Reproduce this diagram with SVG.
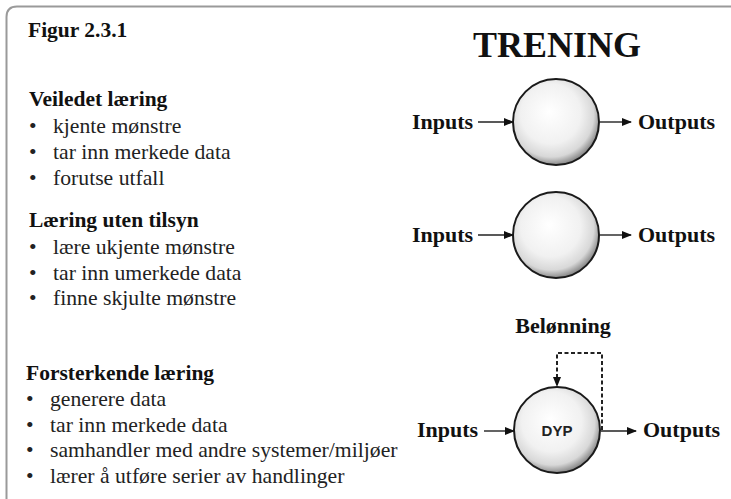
<svg xmlns="http://www.w3.org/2000/svg" width="731" height="499" viewBox="0 0 731 499">
<defs>
<style>
.h{font-family:"Liberation Serif","Times New Roman",serif;font-weight:bold;font-size:21.5px;fill:#111}
.t{font-family:"Liberation Serif","Times New Roman",serif;font-size:21.7px;fill:#222}
.io{font-family:"Liberation Serif","Times New Roman",serif;font-weight:bold;font-size:22px;fill:#111}
.node{fill:url(#g);stroke:#1a1a1a;stroke-width:2}
.ar{stroke:#222;stroke-width:1.4;fill:none;marker-end:url(#ah)}
.dash{stroke:#222;stroke-width:2;fill:none;stroke-dasharray:4 2.5;marker-end:url(#ah)}
</style>
<radialGradient id="g" cx="0.45" cy="0.42" r="0.58" fx="0.42" fy="0.38">
<stop offset="0" stop-color="#ffffff"/>
<stop offset="0.6" stop-color="#f1f1f1"/>
<stop offset="0.85" stop-color="#d8d8d8"/>
<stop offset="1" stop-color="#8a8a8a"/>
</radialGradient>
<marker id="ah" markerWidth="10" markerHeight="8" refX="9" refY="4" orient="auto" markerUnits="userSpaceOnUse">
<path d="M0,0 L10,4 L0,8 Z" fill="#111"/>
</marker>
</defs>
<rect width="731" height="499" fill="#fff"/>
<path d="M6.5,499 V17 Q6.5,6.5 17,6.5 H731" fill="none" stroke="#9a9a9a" stroke-width="2"/>

<text class="h" x="28" y="37">Figur 2.3.1</text>
<text x="557" y="57" text-anchor="middle" style="font-family:'Liberation Serif','Times New Roman',serif;font-weight:bold;font-size:36px;fill:#111">TRENING</text>

<g id="veiledet">
<text class="h" x="29" y="106">Veiledet læring</text>
<text class="t" x="29" y="133">•</text><text class="t" x="53" y="133">kjente mønstre</text>
<text class="t" x="29" y="159">•</text><text class="t" x="53" y="159">tar inn merkede data</text>
<text class="t" x="29" y="185">•</text><text class="t" x="53" y="185">forutse utfall</text>
</g>
<g id="uten-tilsyn">
<text class="h" x="29" y="227">Læring uten tilsyn</text>
<text class="t" x="29" y="254">•</text><text class="t" x="53" y="254">lære ukjente mønstre</text>
<text class="t" x="29" y="280">•</text><text class="t" x="53" y="280">tar inn umerkede data</text>
<text class="t" x="29" y="305">•</text><text class="t" x="53" y="305">finne skjulte mønstre</text>
</g>
<g id="forsterkende">
<text class="h" x="26" y="380">Forsterkende læring</text>
<text class="t" x="26" y="406">•</text><text class="t" x="50" y="406">generere data</text>
<text class="t" x="26" y="432">•</text><text class="t" x="50" y="432">tar inn merkede data</text>
<text class="t" x="26" y="457">•</text><text class="t" x="50" y="457">samhandler med andre systemer/miljøer</text>
<text class="t" x="26" y="483">•</text><text class="t" x="50" y="483">lærer å utføre serier av handlinger</text>
</g>

<g id="node1"><circle class="node" cx="556" cy="122" r="43"/></g>
<g id="node2"><circle class="node" cx="556" cy="235" r="43"/></g>
<g id="node3"><circle class="node" cx="557" cy="430" r="43"/>
<text x="557" y="436" text-anchor="middle" style="font-family:'Liberation Sans',Arial,sans-serif;font-weight:bold;font-size:15px;fill:#222">DYP</text></g>

<g id="labels">
<text class="io" x="412" y="129">Inputs</text>
<text class="io" x="638" y="129">Outputs</text>
<text class="io" x="412" y="242">Inputs</text>
<text class="io" x="638" y="242">Outputs</text>
<text class="io" x="417" y="437">Inputs</text>
<text class="io" x="643" y="437">Outputs</text>
<text class="io" x="563" y="333" text-anchor="middle">Belønning</text>
</g>

<g id="connectors">
<line class="ar" x1="478" y1="122" x2="513" y2="122"/>
<line class="ar" x1="600" y1="122" x2="631" y2="122"/>
<line class="ar" x1="478" y1="235" x2="513" y2="235"/>
<line class="ar" x1="600" y1="235" x2="631" y2="235"/>
<line class="ar" x1="484" y1="431" x2="514" y2="431"/>
<line class="ar" x1="601" y1="431" x2="636" y2="431"/>
<path class="dash" d="M602,430 V353 H557 V386"/>
</g>
</svg>
